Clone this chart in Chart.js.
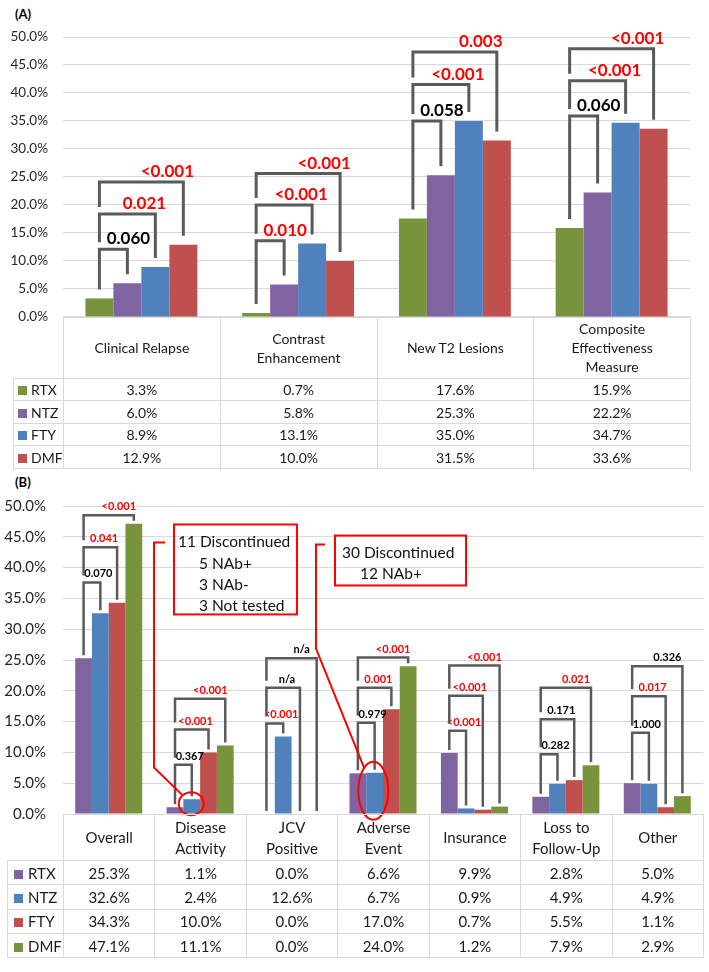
<!DOCTYPE html>
<html>
<head>
<meta charset="utf-8">
<script src="https://cdn.jsdelivr.net/npm/chart.js"></script>
<style>
  body { margin: 0; background: #fff; }
  #page { position: relative; width: 709px; height: 972px; font-family: Lato, "Open Sans", sans-serif; color: #1a1a1a; }
  canvas { position: absolute; left: 0; }
  .panel { position: absolute; font-weight: bold; font-size: 13px; color: #000; }
  table.data { position: absolute; border-collapse: collapse; table-layout: fixed; }
  table.data td { border: 1px solid #d9d9d9; text-align: center; vertical-align: middle; padding: 0; }
  table.data td.blank { border: none; }
  table.data td.key { text-align: left; white-space: nowrap; }
  .sw { display: inline-block; width: 9px; height: 9px; vertical-align: 0; }
</style>
</head>
<body>
<div id="page">
  <div class="panel" style="left:15px;top:6px">(A)</div>
  <div class="panel" style="left:15px;top:474px">(B)</div>
  <canvas id="chartA" width="709" height="340" style="top:0"></canvas>
  <canvas id="chartB" width="709" height="360" style="top:480px"></canvas>
</div>
<script>
// ---------------- data ----------------
const seriesNames = ["RTX", "NTZ", "FTY", "DMF"];
const yMax = 50;
const yStep = 5;

// (A) effectiveness outcomes
const categoriesA = [["Clinical Relapse"], ["Contrast", "Enhancement"], ["New T2 Lesions"], ["Composite", "Effectiveness", "Measure"]];
const rtxA = [3.3, 0.7, 17.6, 15.9];
const ntzA = [6.0, 5.8, 25.3, 22.2];
const ftyA = [8.9, 13.1, 35.0, 34.7];
const dmfA = [12.9, 10.0, 31.5, 33.6];
// RTX vs NTZ / FTY / DMF
const pValuesA = [["0.060", "0.021", "<0.001"], ["0.010", "<0.001", "<0.001"], ["0.058", "<0.001", "0.003"], ["0.060", "<0.001", "<0.001"]];
const bracketLevelsA = [[12.1, 18.4, 24.1], [13.6, 20.0, 25.6], [35.0, 41.5, 47.3], [35.9, 42.2, 47.9]];

// (B) discontinuation reasons
const categoriesB = [["Overall"], ["Disease", "Activity"], ["JCV", "Positive"], ["Adverse", "Event"], ["Insurance"], ["Loss to", "Follow-Up"], ["Other"]];
const rtxB = [25.3, 1.1, 0.0, 6.6, 9.9, 2.8, 5.0];
const ntzB = [32.6, 2.4, 12.6, 6.7, 0.9, 4.9, 4.9];
const ftyB = [34.3, 10.0, 0.0, 17.0, 0.7, 5.5, 1.1];
const dmfB = [47.1, 11.1, 0.0, 24.0, 1.2, 7.9, 2.9];
const pValuesB = [["0.070", "0.041", "<0.001"], ["0.367", "<0.001", "<0.001"], ["<0.001", "n/a", "n/a"], ["0.979", "0.001", "<0.001"], ["<0.001", "<0.001", "<0.001"], ["0.282", "0.171", "0.021"], ["1.000", "0.017", "0.326"]];
const bracketLevelsB = [[37.6, 43.3, 48.5], [8.0, 13.7, 18.7], [14.7, 20.5, 25.3], [14.8, 20.5, 25.4], [13.5, 19.2, 24.1], [9.7, 15.4, 20.5], [13.2, 19.1, 24.0]];

const noteDiseaseActivity = ["11 Discontinued", "5 NAb+", "3 NAb-", "3 Not tested"];
const noteAdverseEvent = ["30 Discontinued", "12 NAb+"];

// ---------------- style ----------------
const GREEN = "#77933C", PURPLE = "#8064A2", BLUE = "#4F81BD", RED = "#C0504D";
const colorsA = [GREEN, PURPLE, BLUE, RED];
const colorsB = [PURPLE, BLUE, RED, GREEN];
const FONT = 'Lato, "Open Sans", sans-serif';
Chart.defaults.font.family = FONT;

function isSignificant(p) {
  if (p.startsWith("<")) return true;
  const v = parseFloat(p);
  return !isNaN(v) && v < 0.05;
}

// brackets: RTX against each other drug, innermost first
function bracketPlugin(cfg) {
  return {
    id: "brackets",
    afterDatasetsDraw(chart) {
      const ctx = chart.ctx, y = chart.scales.y;
      ctx.save();
      ctx.lineWidth = cfg.lineWidth;
      ctx.strokeStyle = "#5a5a5a";
      ctx.lineJoin = "miter";
      ctx.font = cfg.font;
      ctx.textAlign = "center";
      ctx.textBaseline = "alphabetic";
      cfg.levels.forEach((levels, i) => {
        const base = chart.getDatasetMeta(0).data[i];
        let leftBottom = base.y - cfg.barGap;
        levels.forEach((level, k) => {
          const other = chart.getDatasetMeta(k + 1).data[i];
          const yl = y.getPixelForValue(level);
          ctx.beginPath();
          ctx.moveTo(base.x, leftBottom);
          ctx.lineTo(base.x, yl);
          ctx.lineTo(other.x, yl);
          ctx.lineTo(other.x, other.y - cfg.barGap);
          ctx.stroke();
          const p = cfg.labels[i][k];
          ctx.fillStyle = isSignificant(p) ? "#ff0000" : "#000000";
          ctx.fillText(p, other.x + cfg.shift[k], yl - cfg.textGap);
          leftBottom = yl - cfg.innerGap;
        });
      });
      ctx.restore();
    }
  };
}

// red notes with leader lines to a ringed bar (panel B)
const callouts = [
  { box: [0.714, 2.059, 47.0, 32.4], lines: noteDiseaseActivity, textX: [4, 25, 25, 25], textY: [22.5, 44.5, 65.5, 86.5],
    series: 1, index: 1, ring: [-0.5, 4.5, 12.5, 11.5], leader: [[-9, 18], [-20, 18], [-20, 243]] },
  { box: [2.475, 3.908, 45.2, 37.1], lines: noteAdverseEvent, textX: [7, 25], textY: [22.5, 43.5],
    series: 1, index: 3, ring: [-1.3, 18, 15, 29], leader: [[-10, 9], [-19, 9], [-19, 113]] }
];

const calloutPlugin = {
  id: "callouts",
  afterDatasetsDraw(chart) {
    const ctx = chart.ctx, x = chart.scales.x, y = chart.scales.y;
    ctx.save();
    ctx.strokeStyle = "#ff0000";
    ctx.lineWidth = 2;
    ctx.font = "15.5px " + FONT;
    ctx.fillStyle = "#111";
    ctx.textAlign = "left";
    ctx.textBaseline = "alphabetic";
    callouts.forEach(c => {
      const bx0 = x.getPixelForValue(c.box[0]), bx1 = x.getPixelForValue(c.box[1]);
      const by0 = y.getPixelForValue(c.box[2]), by1 = y.getPixelForValue(c.box[3]);
      ctx.strokeRect(bx0, by0, bx1 - bx0, by1 - by0);
      c.lines.forEach((t, j) => ctx.fillText(t, bx0 + c.textX[j], by0 + c.textY[j]));
      const el = chart.getDatasetMeta(c.series).data[c.index];
      const cx = el.x + c.ring[0], cy = el.y + c.ring[1], rx = c.ring[2], ry = c.ring[3];
      ctx.beginPath();
      ctx.ellipse(cx, cy, rx, ry, 0, 0, Math.PI * 2);
      ctx.stroke();
      const pts = c.leader.map(([dx, dy]) => [bx0 + dx, by0 + dy]);
      const last = pts[pts.length - 1];
      const ddx = cx - last[0], ddy = cy - last[1];
      const s = 1 / Math.sqrt((ddx / rx) ** 2 + (ddy / ry) ** 2);
      ctx.beginPath();
      ctx.moveTo(pts[0][0], pts[0][1]);
      pts.slice(1).forEach(p => ctx.lineTo(p[0], p[1]));
      ctx.lineTo(cx - ddx * s, cy - ddy * s);
      ctx.stroke();
    });
    ctx.restore();
  }
};

function makeChart(id, cfg) {
  return new Chart(document.getElementById(id), {
    type: "bar",
    data: {
      labels: cfg.categories.map(c => c.join(" ")),
      datasets: cfg.rows.map((vals, r) => ({
        label: seriesNames[r],
        data: vals,
        backgroundColor: cfg.colors[r],
        borderWidth: 0,
        categoryPercentage: cfg.catPct,
        barPercentage: 1
      }))
    },
    options: {
      responsive: false,
      animation: false,
      layout: { padding: cfg.padding },
      plugins: { legend: { display: false }, tooltip: { enabled: false } },
      scales: {
        x: { display: false },
        y: {
          min: 0, max: yMax,
          ticks: { stepSize: yStep, padding: cfg.tickPad, color: "#262626", font: { size: cfg.tickSize }, callback: v => v.toFixed(1) + "%" },
          grid: { color: "#d9d9d9", drawTicks: false },
          border: { display: false },
          afterFit(s) { s.width = 63; }
        }
      }
    },
    plugins: cfg.plugins
  });
}

function buildTable(chart, canvasTop, cfg) {
  const area = chart.chartArea;
  const n = cfg.categories.length;
  const colW = (area.right - area.left) / n;
  const t = document.createElement("table");
  t.className = "data";
  t.style.left = cfg.left + "px";
  t.style.top = (canvasTop + area.bottom) + "px";
  t.style.width = (area.right - cfg.left) + "px";
  t.style.fontSize = cfg.fontSize + "px";
  const cg = document.createElement("colgroup");
  [area.left - cfg.left].concat(Array(n).fill(colW)).forEach(w => {
    const col = document.createElement("col");
    col.style.width = w + "px";
    cg.appendChild(col);
  });
  t.appendChild(cg);
  const head = t.insertRow();
  head.style.height = cfg.headH + "px";
  head.insertCell().className = "blank";
  cfg.categories.forEach(lines => {
    const c = head.insertCell();
    c.style.lineHeight = cfg.headLine + "px";
    lines.forEach((l, j) => {
      if (j) c.appendChild(document.createElement("br"));
      c.appendChild(document.createTextNode(l));
    });
  });
  cfg.rows.forEach((vals, r) => {
    const tr = t.insertRow();
    tr.style.height = cfg.rowH + "px";
    const k = tr.insertCell();
    k.className = "key";
    k.style.paddingLeft = cfg.keyPad + "px";
    const sw = document.createElement("span");
    sw.className = "sw";
    sw.style.background = cfg.colors[r];
    sw.style.marginRight = cfg.keyGap + "px";
    k.appendChild(sw);
    k.appendChild(document.createTextNode(seriesNames[r]));
    vals.forEach(v => { tr.insertCell().textContent = v.toFixed(1) + "%"; });
  });
  document.getElementById("page").appendChild(t);
}

// ---------------- panel A ----------------
const rowsA = [rtxA, ntzA, ftyA, dmfA];
const chartA = makeChart("chartA", {
  categories: categoriesA, rows: rowsA, colors: colorsA, catPct: 0.714,
  padding: { top: 37, bottom: 20, left: 0, right: 19 }, tickPad: 15, tickSize: 13.5,
  plugins: [bracketPlugin({ levels: bracketLevelsA, labels: pValuesA, font: "bold 17px " + FONT,
    lineWidth: 3, barGap: 9, innerGap: 7, textGap: 5, shift: [1, -11, -16] })]
});
buildTable(chartA, 0, { categories: categoriesA, rows: rowsA, colors: colorsA, left: 13,
  fontSize: 14, headH: 61, headLine: 19, rowH: 22.5, keyPad: 4, keyGap: 4 });

// ---------------- panel B ----------------
const rowsB = [rtxB, ntzB, ftyB, dmfB];
const chartB = makeChart("chartB", {
  categories: categoriesB, rows: rowsB, colors: colorsB, catPct: 0.733,
  padding: { top: 23, bottom: 16, left: 0, right: 6 }, tickPad: 17, tickSize: 15,
  plugins: [bracketPlugin({ levels: bracketLevelsB, labels: pValuesB, font: "bold 11px " + FONT,
    lineWidth: 2.5, barGap: 3, innerGap: 7, textGap: 5, shift: [-2, -13, -15] }), calloutPlugin]
});
buildTable(chartB, 480, { categories: categoriesB, rows: rowsB, colors: colorsB, left: 7,
  fontSize: 15, headH: 46, headLine: 21, rowH: 24.3, keyPad: 6, keyGap: 5 });
</script>
</body>
</html>
